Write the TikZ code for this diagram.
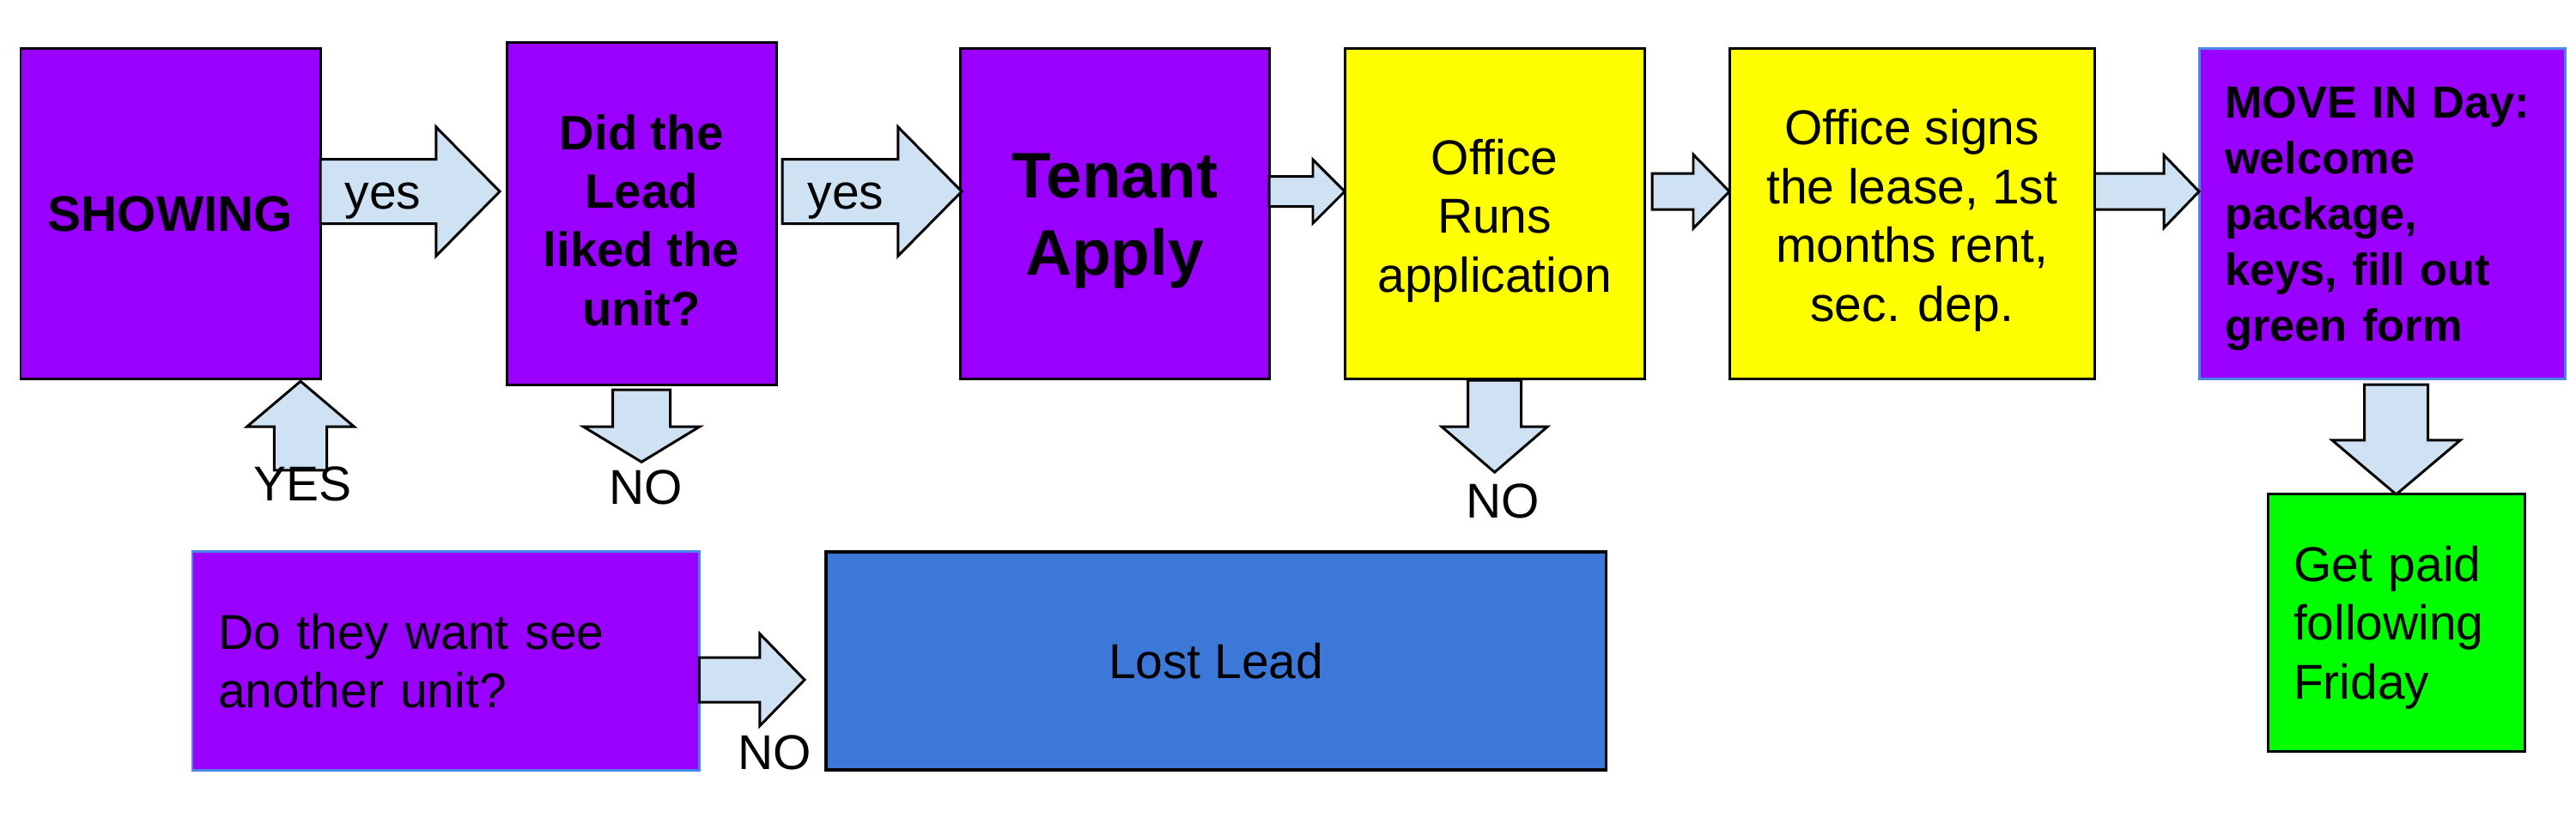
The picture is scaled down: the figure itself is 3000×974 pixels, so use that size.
\documentclass[tikz,border=0pt]{standalone}
\usepackage{fontspec}
\setmainfont{Liberation Sans}
\usetikzlibrary{calc}
\definecolor{purp}{HTML}{9900FF}
\definecolor{yel}{HTML}{FFFF00}
\definecolor{grn}{HTML}{00FF00}
\definecolor{lostblue}{HTML}{3C78D8}
\definecolor{arrowfill}{HTML}{CFE2F3}
\definecolor{edgeblue}{HTML}{4A86E8}
\newcommand\regfont{\fontsize{16.2}{19.5}\selectfont}
\newcommand\didfont{\fontsize{16}{19.35}\selectfont\bfseries}
\newcommand\showfont{\fontsize{16.6}{20}\selectfont\bfseries}
\newcommand\tenfont{\fontsize{21.3}{25.6}\selectfont\bfseries}
\newcommand\movefont{\fontsize{14.9}{18.5}\selectfont\bfseries}
\newcommand\topstrut[1]{\rule{0pt}{#1em}}
\newcommand\blockarrow[5]{%
  \coordinate (ba-s) at #1;
  \coordinate (ba-t) at #2;
  \coordinate (ba-h) at ($(ba-t)!#5!(ba-s)$);
  \draw[barrow] ($(ba-s)!#3!90:(ba-t)$) -- ($(ba-h)!#3!90:(ba-t)$) -- ($(ba-h)!#4!90:(ba-t)$) -- (ba-t)
     -- ($(ba-h)!#4!-90:(ba-t)$) -- ($(ba-h)!#3!-90:(ba-t)$) -- ($(ba-s)!#3!-90:(ba-t)$) -- cycle;
}
\tikzset{
  box/.style={draw=black, line width=0.85pt, rectangle, inner sep=0pt, outer sep=0pt, align=center, font=\regfont, anchor=north west},
  barrow/.style={draw=black, fill=arrowfill, line width=0.85pt, line join=miter},
  lbl/.style={font=\regfont, inner sep=0pt, anchor=base},
}
\begin{document}
\begin{tikzpicture}[x=0.01cm, y=-0.01cm]
\useasboundingbox (0,0) rectangle (3000,974);
\fill[white] (0,0) rectangle (3000,974);

% boxes
\node[box, fill=purp, minimum width=3.49cm, minimum height=3.84cm, font=\showfont] (show) at (24,57) {SHOWING};
\node[box, fill=purp, minimum width=3.14cm, minimum height=3.98cm, font=\didfont] (did) at (590,50) {\topstrut{1.0}Did the\\Lead\\liked the\\unit?};
\node[box, fill=purp, minimum width=3.60cm, minimum height=3.84cm, font=\tenfont] (tenant) at (1118,57) {\topstrut{0.9}Tenant\\Apply};
\node[box, fill=yel, minimum width=3.49cm, minimum height=3.84cm] (runs) at (1566,57) {\topstrut{1.0}Office\\Runs\\application};
\node[box, fill=yel, minimum width=4.25cm, minimum height=3.84cm] (signs) at (2014,57) {\topstrut{1.0}Office signs\\the lease, 1st\\months rent,\\sec. dep.};
\node[box, draw=edgeblue, fill=purp, text width=3.66cm, inner xsep=0.3cm, minimum height=3.84cm, align=left, font=\movefont] (move) at (2561,57) {\topstrut{0.92}MOVE IN Day:\\welcome\\package,\\keys, fill out\\green form};
\node[box, fill=grn, text width=2.39cm, inner xsep=0.3cm, minimum height=2.99cm, align=left] (paid) at (2641,576) {\topstrut{0.92}Get paid\\following\\Friday};
\node[box, draw=edgeblue, fill=purp, text width=5.30cm, inner xsep=0.3cm, minimum height=2.54cm, align=left] (dothey) at (224,643) {Do they want see\\another unit?};
\node[box, fill=lostblue, line width=1.1pt, minimum width=9.08cm, minimum height=2.54cm] (lost) at (962,643) {Lost Lead};

% free ends
\coordinate (yesEnd) at (350,548);
\coordinate (noDidEnd) at ($(did.south)+(0,90)$);
\coordinate (noRunsEnd) at ($(runs.south)+(0,109)$);

% block arrows
\blockarrow{($(show.east)+(0,-26)$)}{($(did.west)+(-8,-26)$)}{0.375cm}{0.75cm}{0.74cm}
\blockarrow{($(did.east)+(7,-26)$)}{($(tenant.west)+(2,-26)$)}{0.375cm}{0.75cm}{0.74cm}
\blockarrow{($(tenant.east)+(0,-26)$)}{($(runs.west)+(0,-26)$)}{0.175cm}{0.37cm}{0.37cm}
\blockarrow{($(runs.east)+(9,-26)$)}{($(signs.west)+(0,-26)$)}{0.21cm}{0.43cm}{0.42cm}
\blockarrow{($(signs.east)+(0,-26)$)}{($(move.west)+(0,-26)$)}{0.21cm}{0.425cm}{0.41cm}
\blockarrow{($(move.south -| paid.north)+(0,7)$)}{(paid.north)}{0.37cm}{0.745cm}{0.63cm}
\blockarrow{(yesEnd)}{($(yesEnd |- show.south)+(0,3)$)}{0.305cm}{0.625cm}{0.53cm}
\blockarrow{($(did.south)+(0,6)$)}{(noDidEnd)}{0.335cm}{0.675cm}{0.41cm}
\blockarrow{($(runs.south)+(0,2)$)}{(noRunsEnd)}{0.31cm}{0.615cm}{0.53cm}
\blockarrow{($(dothey.east)+(0,22)$)}{($(lost.west)+(-25,22)$)}{0.26cm}{0.535cm}{0.52cm}

% labels
\node[lbl] (yes1) at (446,244) {yes};
\node[lbl] (yes2) at (985,244) {yes};
\node[lbl] (yesup) at (352,584) {YES};
\node[lbl] (nodid) at (752,588) {NO};
\node[lbl] (noruns) at (1750,604) {NO};
\node[lbl] (nolost) at (902,897) {NO};
\end{tikzpicture}
\end{document}
